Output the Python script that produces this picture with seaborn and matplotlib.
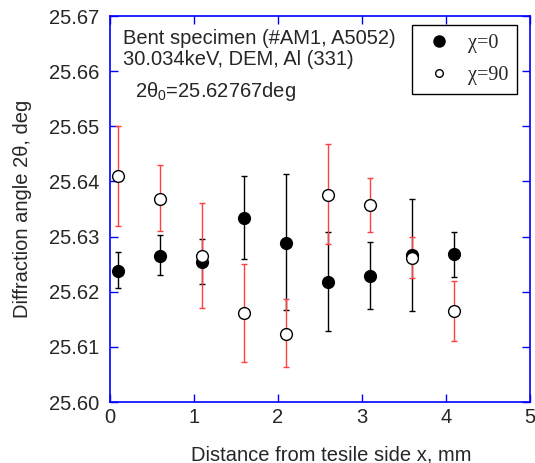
import matplotlib
matplotlib.use("Agg")
import matplotlib.pyplot as plt
import seaborn as sns
import numpy as np
import pandas as pd
from matplotlib.lines import Line2D

# ---- data ----
x_pos = [0.1, 0.6, 1.1, 1.6, 2.1, 2.6, 3.1, 3.6, 4.1]
chi0 = [25.6238, 25.6265, 25.6253, 25.6333, 25.6289, 25.6218, 25.6229, 25.6267, 25.6268]
chi0_hi = [25.6272, 25.6302, 25.6296, 25.6409, 25.6414, 25.6309, 25.6290, 25.6368, 25.6309]
chi0_lo = [25.6207, 25.6230, 25.6214, 25.6259, 25.6166, 25.6129, 25.6169, 25.6165, 25.6226]
chi90 = [25.6410, 25.6369, 25.6265, 25.6161, 25.6123, 25.6375, 25.6357, 25.6262, 25.6165]
chi90_hi = [25.6501, 25.6429, 25.6360, 25.6250, 25.6186, 25.6467, 25.6406, 25.6299, 25.6220]
chi90_lo = [25.6320, 25.6311, 25.6171, 25.6073, 25.6063, 25.6286, 25.6309, 25.6225, 25.6111]
x_ticks = [0, 1, 2, 3, 4, 5]
y_ticks = [25.60, 25.61, 25.62, 25.63, 25.64, 25.65, 25.66, 25.67]

sns.set_style("white")
plt.rcParams['font.family'] = ['Liberation Sans', 'DejaVu Sans']
plt.rcParams['mathtext.fontset'] = 'custom'
plt.rcParams['mathtext.rm'] = 'Liberation Sans'
plt.rcParams['mathtext.it'] = 'Liberation Sans'

FS = 14.5

fig = plt.figure(figsize=(5.35, 4.63), dpi=100)
ax = fig.add_axes([110/535, 1-402/463, 420/535, 386/463])

df0 = pd.DataFrame({"x": x_pos, "y": chi0})
df90 = pd.DataFrame({"x": x_pos, "y": chi90})

e0 = np.array([np.array(chi0) - np.array(chi0_lo), np.array(chi0_hi) - np.array(chi0)])
e90 = np.array([np.array(chi90) - np.array(chi90_lo), np.array(chi90_hi) - np.array(chi90)])

ax.errorbar(x_pos, chi0, yerr=e0, fmt='none', ecolor='black', elinewidth=1.0,
            capsize=2.3, capthick=1.0, zorder=2)
ax.errorbar(x_pos, chi90, yerr=e90, fmt='none', ecolor=(1.0, 0.25, 0.25), elinewidth=1.0,
            capsize=2.3, capthick=1.0, zorder=2)

sns.scatterplot(data=df0, x="x", y="y", ax=ax, color='black', edgecolor='black',
                s=72, linewidth=1, zorder=3, legend=False)
sns.scatterplot(data=df90, x="x", y="y", ax=ax, color='white', edgecolor='black',
                s=72, linewidth=1, zorder=4, legend=False)

ax.set_xlim(0, 5)
ax.set_ylim(25.60, 25.67)
ax.set_xticks(x_ticks)
ax.set_xticklabels([str(t) for t in x_ticks])
ax.set_yticks(y_ticks)
ax.set_yticklabels([f"{t:.2f}" for t in y_ticks])
ax.tick_params(axis='both', which='both', direction='in', length=6, width=1,
               color='blue', labelsize=FS, top=True, right=True, bottom=True, left=True)
ax.tick_params(axis='y', pad=8)
ax.tick_params(axis='x', pad=4)
for sp in ax.spines.values():
    sp.set_color('blue')
    sp.set_linewidth(1.2)
    sp.set_visible(True)

ax.set_xlabel("Distance from tesile side x, mm", fontsize=FS, labelpad=11)
ax.xaxis.set_label_coords(0.526, -0.112)
ax.set_ylabel("Diffraction angle 2θ, deg", fontsize=FS, labelpad=12)

ax.text(0.031, 0.9275, "Bent specimen (#AM1, A5052)", transform=ax.transAxes,
        fontsize=FS, va='baseline', ha='left')
ax.text(0.031, 0.873, "30.034keV, DEM, Al (331)", transform=ax.transAxes,
        fontsize=FS, va='baseline', ha='left')
ax.text(0.060, 0.790, "2θ$_0$=25.62767deg", transform=ax.transAxes, fontsize=FS,
        va='baseline', ha='left')

handles = [Line2D([], [], marker='o', linestyle='none', markerfacecolor='black',
                  markeredgecolor='black', markersize=8),
           Line2D([], [], marker='o', linestyle='none', markerfacecolor='white',
                  markeredgecolor='black', markersize=5.5)]
leg = ax.legend(handles, ["χ=0", "χ=90"], loc='upper right',
                bbox_to_anchor=((517 - 110) / 420, 1 - (25 - 16) / 386),
                bbox_transform=ax.transAxes,
                prop={'family': 'Liberation Serif', 'size': 14.5}, frameon=True,
                fancybox=False, edgecolor='black', framealpha=1, borderpad=0.45,
                handlelength=1.8, handletextpad=0.5, labelspacing=0.65, borderaxespad=0)
leg.get_frame().set_linewidth(1.0)

fig.savefig("out.png", dpi=100)
